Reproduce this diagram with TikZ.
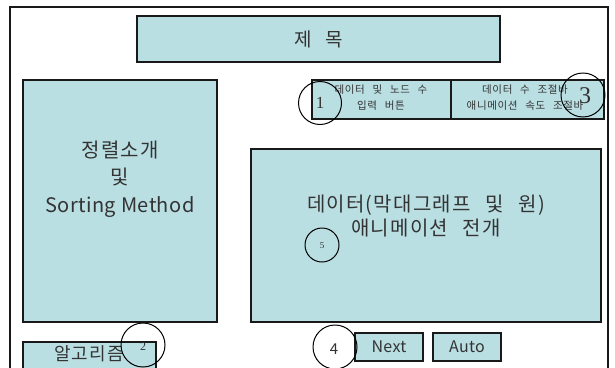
\documentclass[tikz,border=0pt]{standalone}
\usepackage{fontspec}
\setmainfont{Noto Sans CJK KR}[WordSpace=2.6, LetterSpace=6]
\newfontfamily\numfont{Liberation Serif}
\newfontfamily\latfont{Noto Sans CJK KR}[LetterSpace=2]
\definecolor{boxfill}{RGB}{186,223,227}
\definecolor{edge}{RGB}{25,25,25}
\tikzset{
  panel/.style={draw=edge, line width=1.6pt, fill=boxfill, inner sep=0pt},
  marker/.style={draw=black, line width=1pt, circle, inner sep=0pt},
  txt/.style={inner sep=0pt, align=center, text=black!80}
}
\newcommand{\fs}[1]{\fontsize{#1}{#1}\selectfont}
\begin{document}
\begin{tikzpicture}[x=1pt,y=-1pt]
\useasboundingbox (0,0) rectangle (615,367);
\clip (0,0) rectangle (615,367);
\draw[draw=edge, line width=2.6pt] (10,7) rectangle (608,390);
% title
\node[panel, minimum width=363pt, minimum height=46pt] (title) at (318.5,39) {};
\node[txt, font=\fs{19}] (titletxt) at (title.center) {제 목};
% left box
\node[panel, minimum width=194pt, minimum height=242pt] (intro) at (120,201) {};
\node[txt, font=\fs{20}, align=center] (introtxt) at (120,179) {정렬소개\\[7.5pt]및\\[7.5pt]{\latfont Sorting Method}};
% buttons
\node[panel, minimum width=139pt, minimum height=39pt] (btnL) at (381.5,99.5) {};
\node[panel, minimum width=153pt, minimum height=39pt] (btnR) at (527.5,99.5) {};
\node[txt, font=\fs{10.5}] (btnLt) at (381,97.5) {데이터 및 노드 수\\[5pt]입력 버튼};
\node[txt, font=\fs{10.5}] (btnRt) at (525,97.5) {데이터 수 조절바\\[5pt]애니메이션 속도 조절바};
% big box
\node[panel, minimum width=350pt, minimum height=173pt] (anim) at (426,235.5) {};
\node[txt, font=\fs{20}] (animt1) at (426,205) {데이터(막대그래프 및 원)};
\node[txt, font=\fs{20}] (animt2) at (426,228) {애니메이션 전개};
% algorithm box
\node[panel, minimum width=133pt, minimum height=38pt] (algo) at (89.5,361) {};
\node[txt, font=\fs{18}] (algot) at (89,354) {알고리즘};
% next / auto
\node[panel, minimum width=68pt, minimum height=28pt] (next) at (389,347) {};
\node[txt, font=\latfont\fs{16}] (nextt) at (next.center) {Next};
\node[panel, minimum width=68pt, minimum height=28pt] (auto) at (467,347) {};
\node[txt, font=\latfont\fs{16}] (autot) at (auto.center) {Auto};
% markers
\node[marker, minimum size=43pt] (c1) at (320,103) {};
\node[txt, font=\numfont\fs{17}] (n1) at (320,103) {1};
\node[marker, minimum size=44pt] (c3) at (583,95) {};
\node[txt, font=\numfont\fs{24}] (n3) at (585,96) {3};
\node[marker, minimum size=44pt] (c2) at (143,345) {};
\node[txt, font=\numfont\fs{12}] (n2) at (143,347) {2};
\node[marker, minimum size=44pt] (c4) at (335,347) {};
\node[txt, font=\latfont\fs{15}] (n4) at (334,349) {4};
\node[marker, minimum size=34pt] (c5) at (322,245) {};
\node[txt, font=\numfont\fs{9}] (n5) at (322,246) {5};
\end{tikzpicture}
\end{document}
